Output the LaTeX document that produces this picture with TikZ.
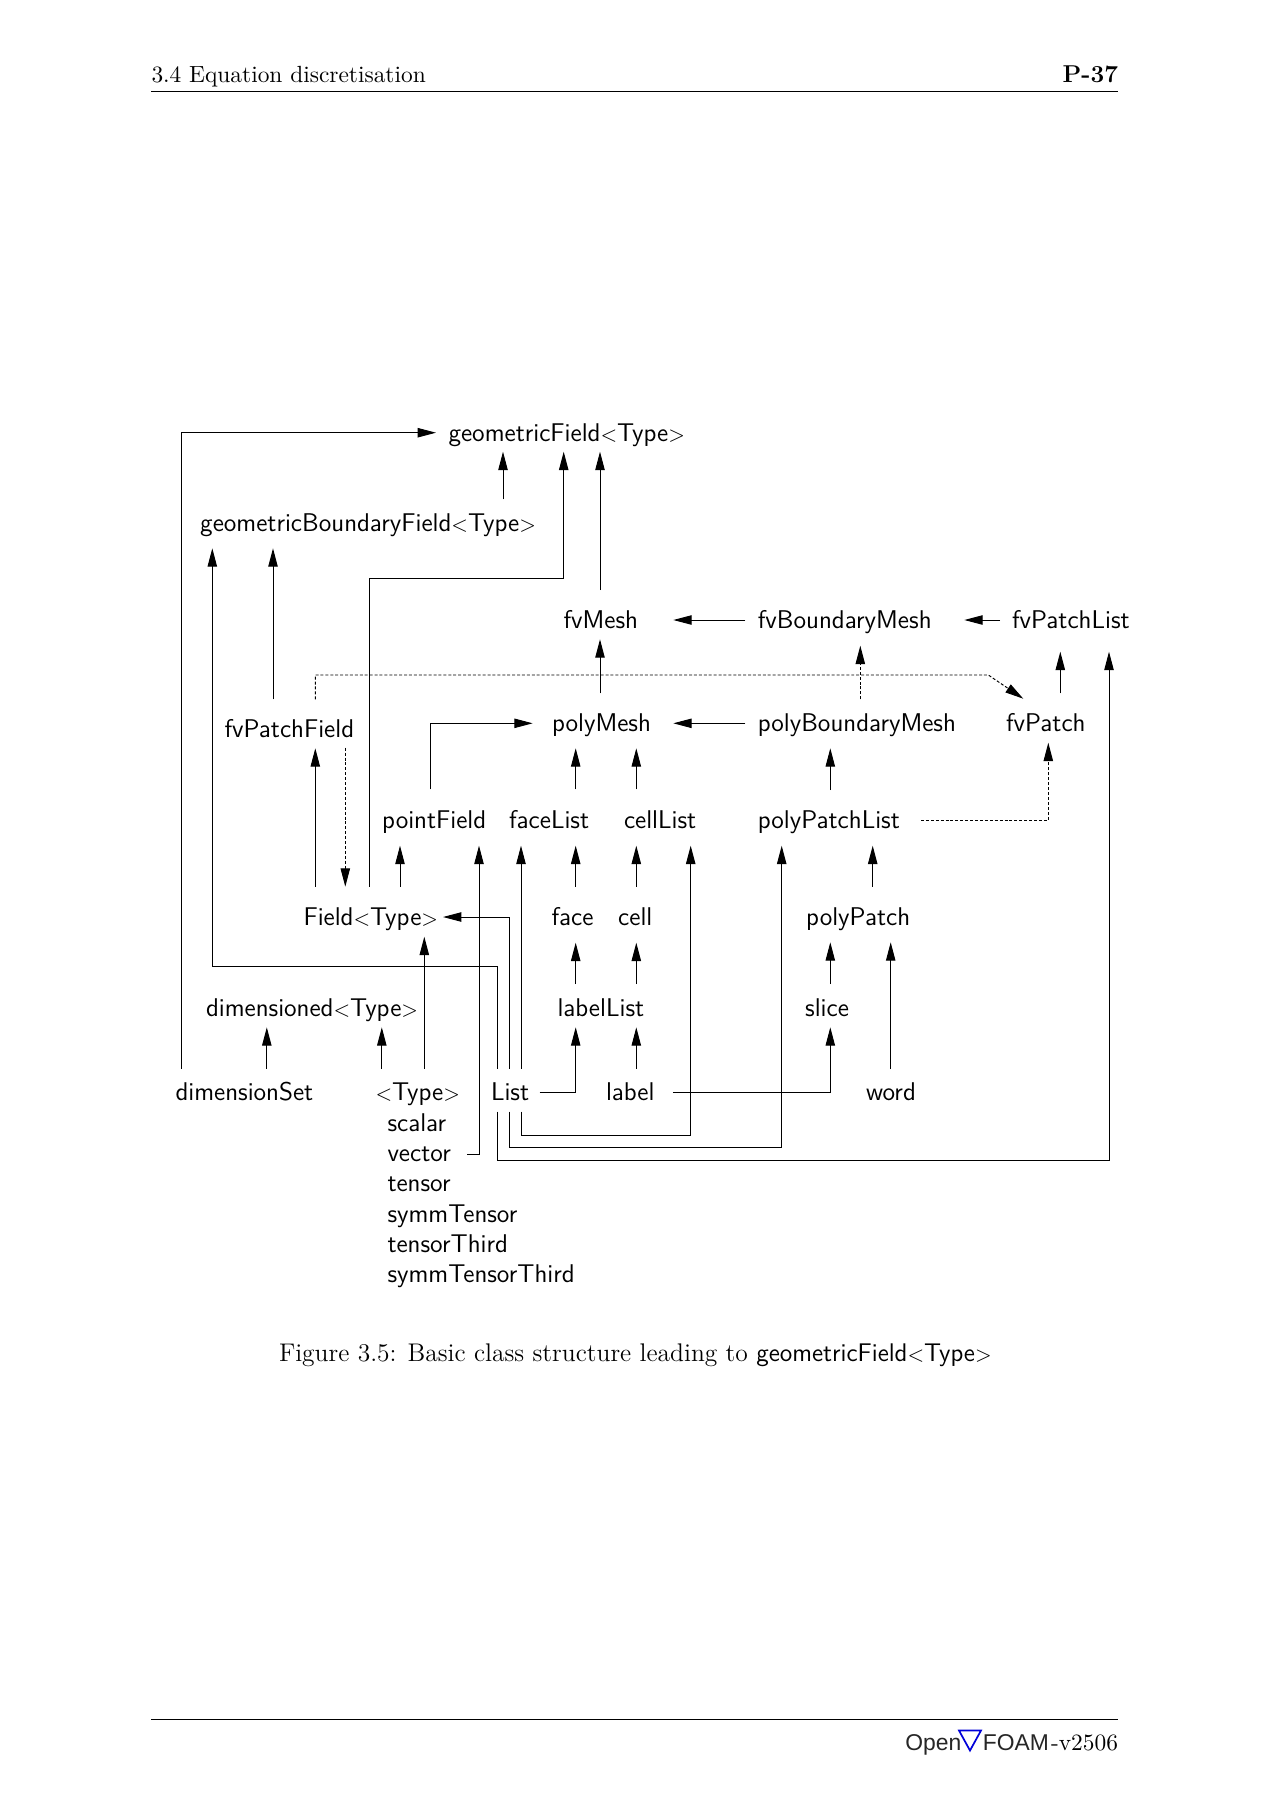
\documentclass[tikz,border=0pt]{standalone}
\usepackage{fontspec}
\usetikzlibrary{arrows.meta}
\newfontfamily\logofont{Liberation Sans}
\newfontfamily\ssf{Latin Modern Sans}
\newfontfamily\rmf{Latin Modern Roman}
\newcommand{\tp}{{\fontsize{10}{12}\selectfont$<$}Type{\fontsize{10}{12}\selectfont$>$}}
\tikzset{
  x=0.468pt,y=-0.468pt,
  cls/.style={anchor=base west,inner sep=0pt,outer sep=0pt,font=\fontsize{12}{14}\selectfont\ssf},
  plain/.style={anchor=base west,inner sep=0pt,outer sep=0pt,font=\fontsize{11.94}{14}\selectfont\rmf},
  link/.style={line width=0.45pt,black,line join=miter},
  arr/.style={link,-{Triangle[length=8.6pt,width=4.4pt]}},
  dot/.style={line width=0.45pt,black,dash pattern=on 1.4pt off 0.9pt},
  darr/.style={dot,-{Triangle[length=8.6pt,width=4.4pt]}},
  rule/.style={line width=0.45pt,black}
}
\begin{document}
\begin{tikzpicture}
\useasboundingbox (0,0) rectangle (1272,1800);
\fill[white] (0,0) rectangle (1272,1800);
% page furniture
\node[plain,font=\fontsize{10.95}{13}\selectfont\rmf] (hdr) at (151.5,82) {3.4 Equation discretisation};
\node[plain,anchor=base east,font=\fontsize{11.4}{13}\selectfont\bfseries] (pg) at (1118,82) {P-37};
\coordinate (hl) at (151,91.5); \coordinate (hr) at (1118,91.5);
\draw[rule] (hl) -- (hr);
\coordinate (fl) at (151,1719); \coordinate (fr) at (1118,1719);
\draw[rule] (fl) -- (fr);
\node[anchor=base west,inner sep=0pt,font=\fontsize{10.7}{13}\selectfont\logofont,text=black!85] (open) at (905,1750.5) {Open};
\draw[blue!85!black,line width=0.8pt,line join=miter] (959,1730.5) -- (981,1730.5) -- (970,1750.5) -- cycle;
\node[anchor=base west,inner sep=0pt,font=\fontsize{10.7}{13}\selectfont\logofont,text=black!85] (foam) at (982.5,1750.5) {FOAM};
\node[plain,anchor=base east,font=\fontsize{10.95}{13}\selectfont\rmf] (ver) at (1118,1750.5) {-v2506};
\node[plain] (cap) at (279,1361) {Figure 3.5: Basic class structure leading to {\fontsize{11.94}{14}\selectfont\ssf geometricField\tp}};
% classes
\node[cls] (geomF) at (448.5,441) {geometricField\tp};
\node[cls] (geomB) at (200.2,531) {geometricBoundaryField\tp};
\node[cls] (fvMesh) at (563.5,628) {fvMesh};
\node[cls] (fvBM) at (757.8,628) {fvBoundaryMesh};
\node[cls] (fvPL) at (1012,628) {fvPatchList};
\node[cls] (fvPF) at (224.5,737.5) {fvPatchField};
\node[cls] (polyM) at (552,731.5) {polyMesh};
\node[cls] (polyBM) at (757.8,731.5) {polyBoundaryMesh};
\node[cls] (fvP) at (1006,731.5) {fvPatch};
\node[cls] (ptF) at (382.2,828) {pointField};
\node[cls] (faceL) at (509,828) {faceList};
\node[cls] (cellL) at (624,828) {cellList};
\node[cls] (polyPL) at (757.8,828) {polyPatchList};
\node[cls] (field) at (303.5,925) {Field\tp};
\node[cls] (face) at (551.5,925) {face};
\node[cls] (cell) at (618.2,925) {cell};
\node[cls] (polyP) at (806.2,925) {polyPatch};
\node[cls] (dimT) at (206,1016) {dimensioned\tp};
\node[cls] (labelL) at (557.5,1016) {labelList};
\node[cls] (slice) at (805.2,1016) {slice};
\node[cls] (dimS) at (175.5,1100.5) {dimensionSet};
\node[cls] (type) at (375.5,1100.5) {\tp};
\node[cls] (list) at (491,1100.5) {List};
\node[cls] (label) at (606,1100.5) {label};
\node[cls] (word) at (866.2,1100.5) {word};
\node[cls] (scalar) at (387.5,1131.3) {scalar};
\node[cls] (vector) at (387.5,1161.5) {vector};
\node[cls] (tensor) at (387.5,1191.8) {tensor};
\node[cls] (symmT) at (387.5,1222) {symmTensor};
\node[cls] (tensT) at (387.5,1252.3) {tensorThird};
\node[cls] (symmTT) at (387.5,1282.5) {symmTensorThird};
% connector ends
\coordinate (a1) at (181.7,1068.7); \coordinate (a2) at (436,432.7);
\coordinate (b1) at (503,499.3); \coordinate (b2) at (503,451.7);
\coordinate (c1) at (369.7,886.7); \coordinate (c2) at (369.7,578); \coordinate (c3) at (563.7,578); \coordinate (c4) at (563.7,451.7);
\coordinate (d1) at (600,590); \coordinate (d2) at (600,451.7);
\coordinate (e1) at (497,1068.7); \coordinate (e2) at (497,966); \coordinate (e3) at (212.3,966); \coordinate (e4) at (212.3,548.3);
\coordinate (f1) at (273,699.3); \coordinate (f2) at (273,548.3);
\coordinate (g1) at (315.3,886.7); \coordinate (g2) at (315.3,748.3);
\coordinate (h1) at (345.3,747.7); \coordinate (h2) at (345.3,886.7);
\coordinate (i1) at (315.3,699.3); \coordinate (i2) at (315.3,675); \coordinate (i3) at (988.3,675); \coordinate (i4) at (1023.3,698.7);
\coordinate (j1) at (600,693.3); \coordinate (j2) at (600,639.3);
\coordinate (k1) at (745.3,620); \coordinate (k2) at (673.3,620);
\coordinate (l1) at (1000,620); \coordinate (l2) at (964.3,620);
\coordinate (m1) at (745.3,723.3); \coordinate (m2) at (673.3,723.3);
\coordinate (n1) at (860.3,699.3); \coordinate (n2) at (860.3,645.7);
\coordinate (o1) at (1060.3,693.3); \coordinate (o2) at (1060.3,651.7);
\coordinate (p1) at (430.3,789.3); \coordinate (p2) at (430.3,723.3); \coordinate (p3) at (532.7,723.3);
\coordinate (q1) at (575.7,789.3); \coordinate (q2) at (575.7,748.3);
\coordinate (r1) at (636.3,789.3); \coordinate (r2) at (636.3,748.3);
\coordinate (s1) at (830.3,790); \coordinate (s2) at (830.3,748.3);
\coordinate (t1) at (921,820); \coordinate (t2) at (1048.3,820); \coordinate (t3) at (1048.3,742.7);
\coordinate (u1) at (400,886.7); \coordinate (u2) at (400,845.7);
\coordinate (v1) at (467,1154); \coordinate (v2) at (479,1154); \coordinate (v3) at (479,845.7);
\coordinate (w1) at (521,1068.7); \coordinate (w2) at (521,845.7);
\coordinate (x1) at (575.7,886.7); \coordinate (x2) at (575.7,845.7);
\coordinate (y1) at (636.3,886.7); \coordinate (y2) at (636.3,845.7);
\coordinate (z1) at (872.7,886.7); \coordinate (z2) at (872.7,845.7);
\coordinate (aa1) at (521,1111.7); \coordinate (aa2) at (521,1135.7); \coordinate (aa3) at (690.7,1135.7); \coordinate (aa4) at (690.7,845.7);
\coordinate (ab1) at (509.3,1111.7); \coordinate (ab2) at (509.3,1147.7); \coordinate (ab3) at (781.7,1147.7); \coordinate (ab4) at (781.7,845.7);
\coordinate (ac1) at (497,1111.7); \coordinate (ac2) at (497,1160); \coordinate (ac3) at (1109,1160); \coordinate (ac4) at (1109,651.7);
\coordinate (ad1) at (509.3,1068.7); \coordinate (ad2) at (509.3,917); \coordinate (ad3) at (443,917);
\coordinate (ae1) at (424.3,1068.7); \coordinate (ae2) at (424.3,936.7);
\coordinate (af1) at (266.8,1068.7); \coordinate (af2) at (266.8,1027.3);
\coordinate (ag1) at (381.8,1068.7); \coordinate (ag2) at (381.8,1027.3);
\coordinate (ah1) at (539.6,1092.7); \coordinate (ah2) at (575.7,1092.7); \coordinate (ah3) at (575.7,1027.3);
\coordinate (ai1) at (636.3,1068.7); \coordinate (ai2) at (636.3,1027.3);
\coordinate (aj1) at (672.9,1092.7); \coordinate (aj2) at (830.3,1092.7); \coordinate (aj3) at (830.3,1027.3);
\coordinate (ak1) at (575.7,984); \coordinate (ak2) at (575.7,942.7);
\coordinate (al1) at (636.3,984); \coordinate (al2) at (636.3,942.7);
\coordinate (am1) at (830.3,984); \coordinate (am2) at (830.3,942.3);
\coordinate (an1) at (890.7,1069); \coordinate (an2) at (890.7,942.3);
% connectors
\draw[arr] (a1) |- (a2);
\draw[arr] (b1) -- (b2);
\draw[arr] (c1) -- (c2) -- (c3) -- (c4);
\draw[arr] (d1) -- (d2);
\draw[arr] (e1) -- (e2) -- (e3) -- (e4);
\draw[arr] (f1) -- (f2);
\draw[arr] (g1) -- (g2);
\draw[darr] (h1) -- (h2);
\draw[darr] (i1) -- (i2) -- (i3) -- (i4);
\draw[arr] (j1) -- (j2);
\draw[arr] (k1) -- (k2);
\draw[arr] (l1) -- (l2);
\draw[arr] (m1) -- (m2);
\draw[darr] (n1) -- (n2);
\draw[arr] (o1) -- (o2);
\draw[arr] (p1) -- (p2) -- (p3);
\draw[arr] (q1) -- (q2);
\draw[arr] (r1) -- (r2);
\draw[arr] (s1) -- (s2);
\draw[darr] (t1) -- (t2) -- (t3);
\draw[arr] (u1) -- (u2);
\draw[arr] (v1) -- (v2) -- (v3);
\draw[arr] (w1) -- (w2);
\draw[arr] (x1) -- (x2);
\draw[arr] (y1) -- (y2);
\draw[arr] (z1) -- (z2);
\draw[arr] (aa1) -- (aa2) -- (aa3) -- (aa4);
\draw[arr] (ab1) -- (ab2) -- (ab3) -- (ab4);
\draw[arr] (ac1) -- (ac2) -- (ac3) -- (ac4);
\draw[arr] (ad1) -- (ad2) -- (ad3);
\draw[arr] (ae1) -- (ae2);
\draw[arr] (af1) -- (af2);
\draw[arr] (ag1) -- (ag2);
\draw[arr] (ah1) -- (ah2) -- (ah3);
\draw[arr] (ai1) -- (ai2);
\draw[arr] (aj1) -- (aj2) -- (aj3);
\draw[arr] (ak1) -- (ak2);
\draw[arr] (al1) -- (al2);
\draw[arr] (am1) -- (am2);
\draw[arr] (an1) -- (an2);
\end{tikzpicture}
\end{document}
